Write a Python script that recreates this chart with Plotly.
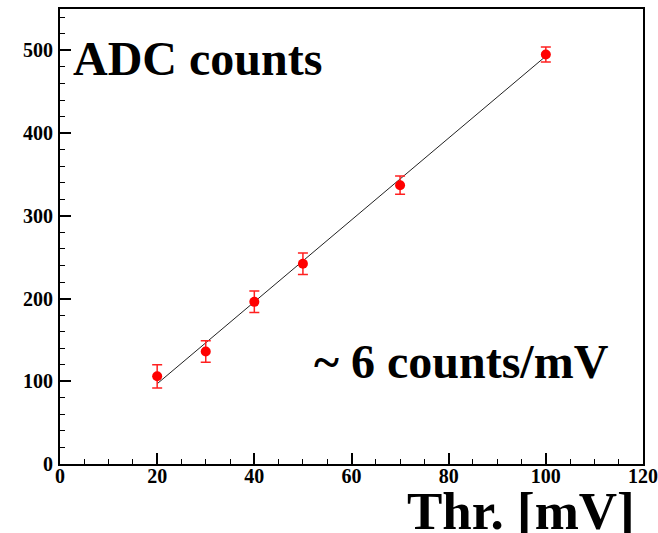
import plotly.graph_objects as go

# Data
thr_mv = [20, 30, 40, 50, 70, 100]
adc_counts = [106, 136, 196, 242, 337, 495]
adc_err = [14, 13, 13, 13, 11, 9]

fit_x = [20, 100]
fit_y = [97, 493]

x_ticks = [0, 20, 40, 60, 80, 100, 120]
y_ticks = [0, 100, 200, 300, 400, 500]

FONT = "Liberation Serif, Times New Roman, serif"

fig = go.Figure()
fig.add_trace(go.Scatter(
    x=fit_x, y=fit_y, mode="lines",
    line=dict(color="#222222", width=1),
    showlegend=False, hoverinfo="skip",
))
fig.add_trace(go.Scatter(
    x=thr_mv, y=adc_counts, mode="markers",
    marker=dict(color="#ff0000", size=10, symbol="circle"),
    error_y=dict(type="data", array=adc_err, visible=True,
                 color="#ff2020", thickness=1.5, width=5),
    showlegend=False,
))

axis_common = dict(
    showgrid=False, zeroline=False, automargin=False,
    showline=True, linecolor="black", linewidth=2, mirror=True,
    ticks="inside", ticklen=11, tickwidth=1.5, tickcolor="black",
    ticklabeloverflow="allow",
    tickfont=dict(family=FONT, size=20, color="black", weight="bold"),
)

fig.update_xaxes(
    range=[0, 120], tickvals=x_ticks, ticktext=[str(v) for v in x_ticks],
    minor=dict(dtick=5, tick0=0, ticks="inside", ticklen=5, tickwidth=1, tickcolor="black"),
    ticklabelstandoff=-7,
    **axis_common,
)
fig.update_yaxes(
    range=[0, 550], tickvals=y_ticks, ticktext=[str(v) for v in y_ticks],
    minor=dict(dtick=20, tick0=0, ticks="inside", ticklen=5, tickwidth=1, tickcolor="black"),
    ticklabelstandoff=1,
    **axis_common,
)

fig.add_annotation(
    text="ADC counts", xref="paper", yref="paper",
    x=0.0184, y=0.8915, xanchor="left", yanchor="middle", showarrow=False,
    font=dict(family=FONT, size=48, color="black", weight="bold"),
)
fig.add_annotation(
    text="~ 6 counts/mV", xref="paper", yref="paper",
    x=0.433, y=0.226, xanchor="left", yanchor="middle", showarrow=False,
    font=dict(family=FONT, size=48, color="black", weight="bold"),
)
fig.add_annotation(
    text="Thr. [mV]", xref="paper", yref="paper",
    x=0.99, y=-0.104, xanchor="right", yanchor="middle", showarrow=False,
    font=dict(family=FONT, size=53, color="black", weight="bold"),
)

# Plot frame at x 60..643, y 9..464 of the 658x533 window
fig.update_layout(
    width=658, height=533,
    margin=dict(l=60, r=15, t=9, b=69),
    paper_bgcolor="white", plot_bgcolor="white",
)

fig.write_html(
    "out.html",
    config={"displayModeBar": False},
    post_script="document.body.style.margin='0';document.body.style.overflow='hidden';",
)
